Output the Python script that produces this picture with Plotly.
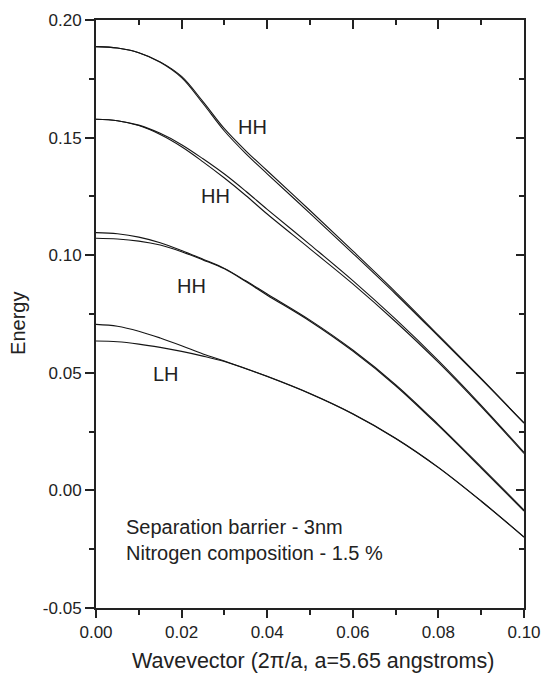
import plotly.graph_objects as go

# Wavevector samples (2pi/a)
k = [0.0, 0.005, 0.01, 0.015, 0.02, 0.025, 0.03, 0.035, 0.04, 0.05, 0.06, 0.07, 0.08, 0.09, 0.10]

# Heavy-hole pair 1 (top)
hh1_a = [0.1887, 0.1881, 0.1861, 0.1822, 0.1760, 0.1653, 0.1538, 0.1444, 0.1359, 0.1190, 0.1018, 0.0843, 0.0660, 0.0476, 0.0287]
hh1_b = [0.1887, 0.1881, 0.1861, 0.1820, 0.1755, 0.1645, 0.1528, 0.1432, 0.1346, 0.1178, 0.1008, 0.0835, 0.0655, 0.0473, 0.0286]

# Heavy-hole pair 2
hh2_a = [0.1578, 0.1572, 0.1553, 0.1518, 0.1470, 0.1410, 0.1345, 0.1272, 0.1195, 0.1045, 0.0892, 0.0728, 0.0552, 0.0362, 0.0162]
hh2_b = [0.1578, 0.1572, 0.1551, 0.1513, 0.1461, 0.1397, 0.1328, 0.1254, 0.1175, 0.1027, 0.0878, 0.0717, 0.0544, 0.0356, 0.0157]

# Heavy-hole pair 3
hh3_a = [0.1096, 0.1091, 0.1077, 0.1053, 0.1020, 0.0983, 0.0944, 0.0891, 0.0835, 0.0724, 0.0597, 0.0450, 0.0280, 0.0100, -0.0083]
hh3_b = [0.1072, 0.1069, 0.1060, 0.1043, 0.1015, 0.0980, 0.0942, 0.0888, 0.0830, 0.0719, 0.0592, 0.0445, 0.0275, 0.0095, -0.0088]

# Light-hole pair
lh_a = [0.0706, 0.0698, 0.0677, 0.0648, 0.0615, 0.0580, 0.0550, 0.0518, 0.0485, 0.0412, 0.0326, 0.0222, 0.0098, -0.0045, -0.0198]
lh_b = [0.0635, 0.0632, 0.0622, 0.0608, 0.0591, 0.0571, 0.0548, 0.0517, 0.0484, 0.0411, 0.0325, 0.0221, 0.0097, -0.0046, -0.0199]

curves = [hh1_a, hh1_b, hh2_a, hh2_b, hh3_a, hh3_b, lh_a, lh_b]

# Band labels
band_labels = ["HH", "HH", "HH", "LH"]
band_label_k = [0.0365, 0.0280, 0.0222, 0.0164]
band_label_e = [0.1547, 0.1252, 0.0871, 0.0493]

note_lines = ["Separation barrier - 3nm", "Nitrogen composition - 1.5 %"]
note_k = 0.0065
note_e = [-0.0156, -0.0266]

x_tick_vals = [0.0, 0.02, 0.04, 0.06, 0.08, 0.10]
x_tick_text = ["0.00", "0.02", "0.04", "0.06", "0.08", "0.10"]
y_tick_vals = [-0.05, 0.0, 0.05, 0.10, 0.15, 0.20]
y_tick_text = ["-0.05", "0.00", "0.05", "0.10", "0.15", "0.20"]

FONT = "Liberation Sans, Arial, sans-serif"
INK = "#222222"

fig = go.Figure()
for ys in curves:
    fig.add_trace(go.Scatter(
        x=k, y=ys, mode="lines",
        line=dict(color="#151515", width=1.1, shape="spline", smoothing=1.0),
        showlegend=False, hoverinfo="skip"))

# invisible trace on the mirrored axes
fig.add_trace(go.Scatter(x=[None], y=[None], xaxis="x2", yaxis="y2",
                         showlegend=False, hoverinfo="skip"))

common_x = dict(range=[0, 0.1], showgrid=False, zeroline=False, showline=True,
                linewidth=2, linecolor=INK, tickmode="array", automargin=False,
                tickvals=x_tick_vals, tickwidth=1.5, tickcolor=INK)
common_y = dict(range=[-0.05, 0.20], showgrid=False, zeroline=False, showline=True,
                linewidth=2, linecolor=INK, tickmode="array", automargin=False,
                tickvals=y_tick_vals, tickwidth=1.5, tickcolor=INK)

fig.update_layout(
    width=542, height=679, autosize=False, showlegend=False,
    margin=dict(l=96, r=18, t=20, b=71, pad=0),
    paper_bgcolor="white", plot_bgcolor="white",
    font=dict(family=FONT, color=INK, size=17),
    xaxis=dict(**common_x, ticktext=x_tick_text, ticks="outside", ticklen=8,
               tickfont=dict(size=17, family=FONT, color=INK),
               minor=dict(tickmode="linear", tick0=0, dtick=0.01, ticks="outside",
                          ticklen=5, tickwidth=1.5, tickcolor=INK)),
    yaxis=dict(**common_y, ticktext=y_tick_text, ticks="outside", ticklen=9,
               tickfont=dict(size=17, family=FONT, color=INK),
               minor=dict(tickmode="linear", tick0=0, dtick=0.025, ticks="outside",
                          ticklen=5, tickwidth=1.5, tickcolor=INK)),
    xaxis2=dict(**common_x, overlaying="x", side="top", anchor="y",
                ticks="inside", ticklen=9, showticklabels=False,
                minor=dict(tickmode="linear", tick0=0, dtick=0.01, ticks="inside",
                           ticklen=5, tickwidth=1.5, tickcolor=INK)),
    yaxis2=dict(**common_y, overlaying="y", side="right", anchor="x",
                ticks="inside", ticklen=8, showticklabels=False,
                minor=dict(tickmode="linear", tick0=0, dtick=0.025, ticks="inside",
                           ticklen=5, tickwidth=1.5, tickcolor=INK)),
)

for txt, xk, ye in zip(band_labels, band_label_k, band_label_e):
    fig.add_annotation(x=xk, y=ye, xref="x", yref="y", text=txt, showarrow=False,
                       font=dict(size=20, family=FONT, color=INK),
                       xanchor="center", yanchor="middle")

for txt, ye in zip(note_lines, note_e):
    fig.add_annotation(x=note_k, y=ye, xref="x", yref="y", text=txt, showarrow=False,
                       font=dict(size=20, family=FONT, color=INK),
                       xanchor="left", yanchor="middle")

# axis titles
fig.add_annotation(x=-0.181, y=0.484, xref="paper", yref="paper", text="Energy",
                   textangle=-90, showarrow=False,
                   font=dict(size=20, family=FONT, color=INK),
                   xanchor="center", yanchor="middle")
fig.add_annotation(x=0.508, y=-0.090, xref="paper", yref="paper",
                   text="Wavevector (2\u03c0/a, a=5.65 angstroms)", showarrow=False,
                   font=dict(size=21.5, family=FONT, color=INK),
                   xanchor="center", yanchor="middle")

fig.write_html("out.html")
